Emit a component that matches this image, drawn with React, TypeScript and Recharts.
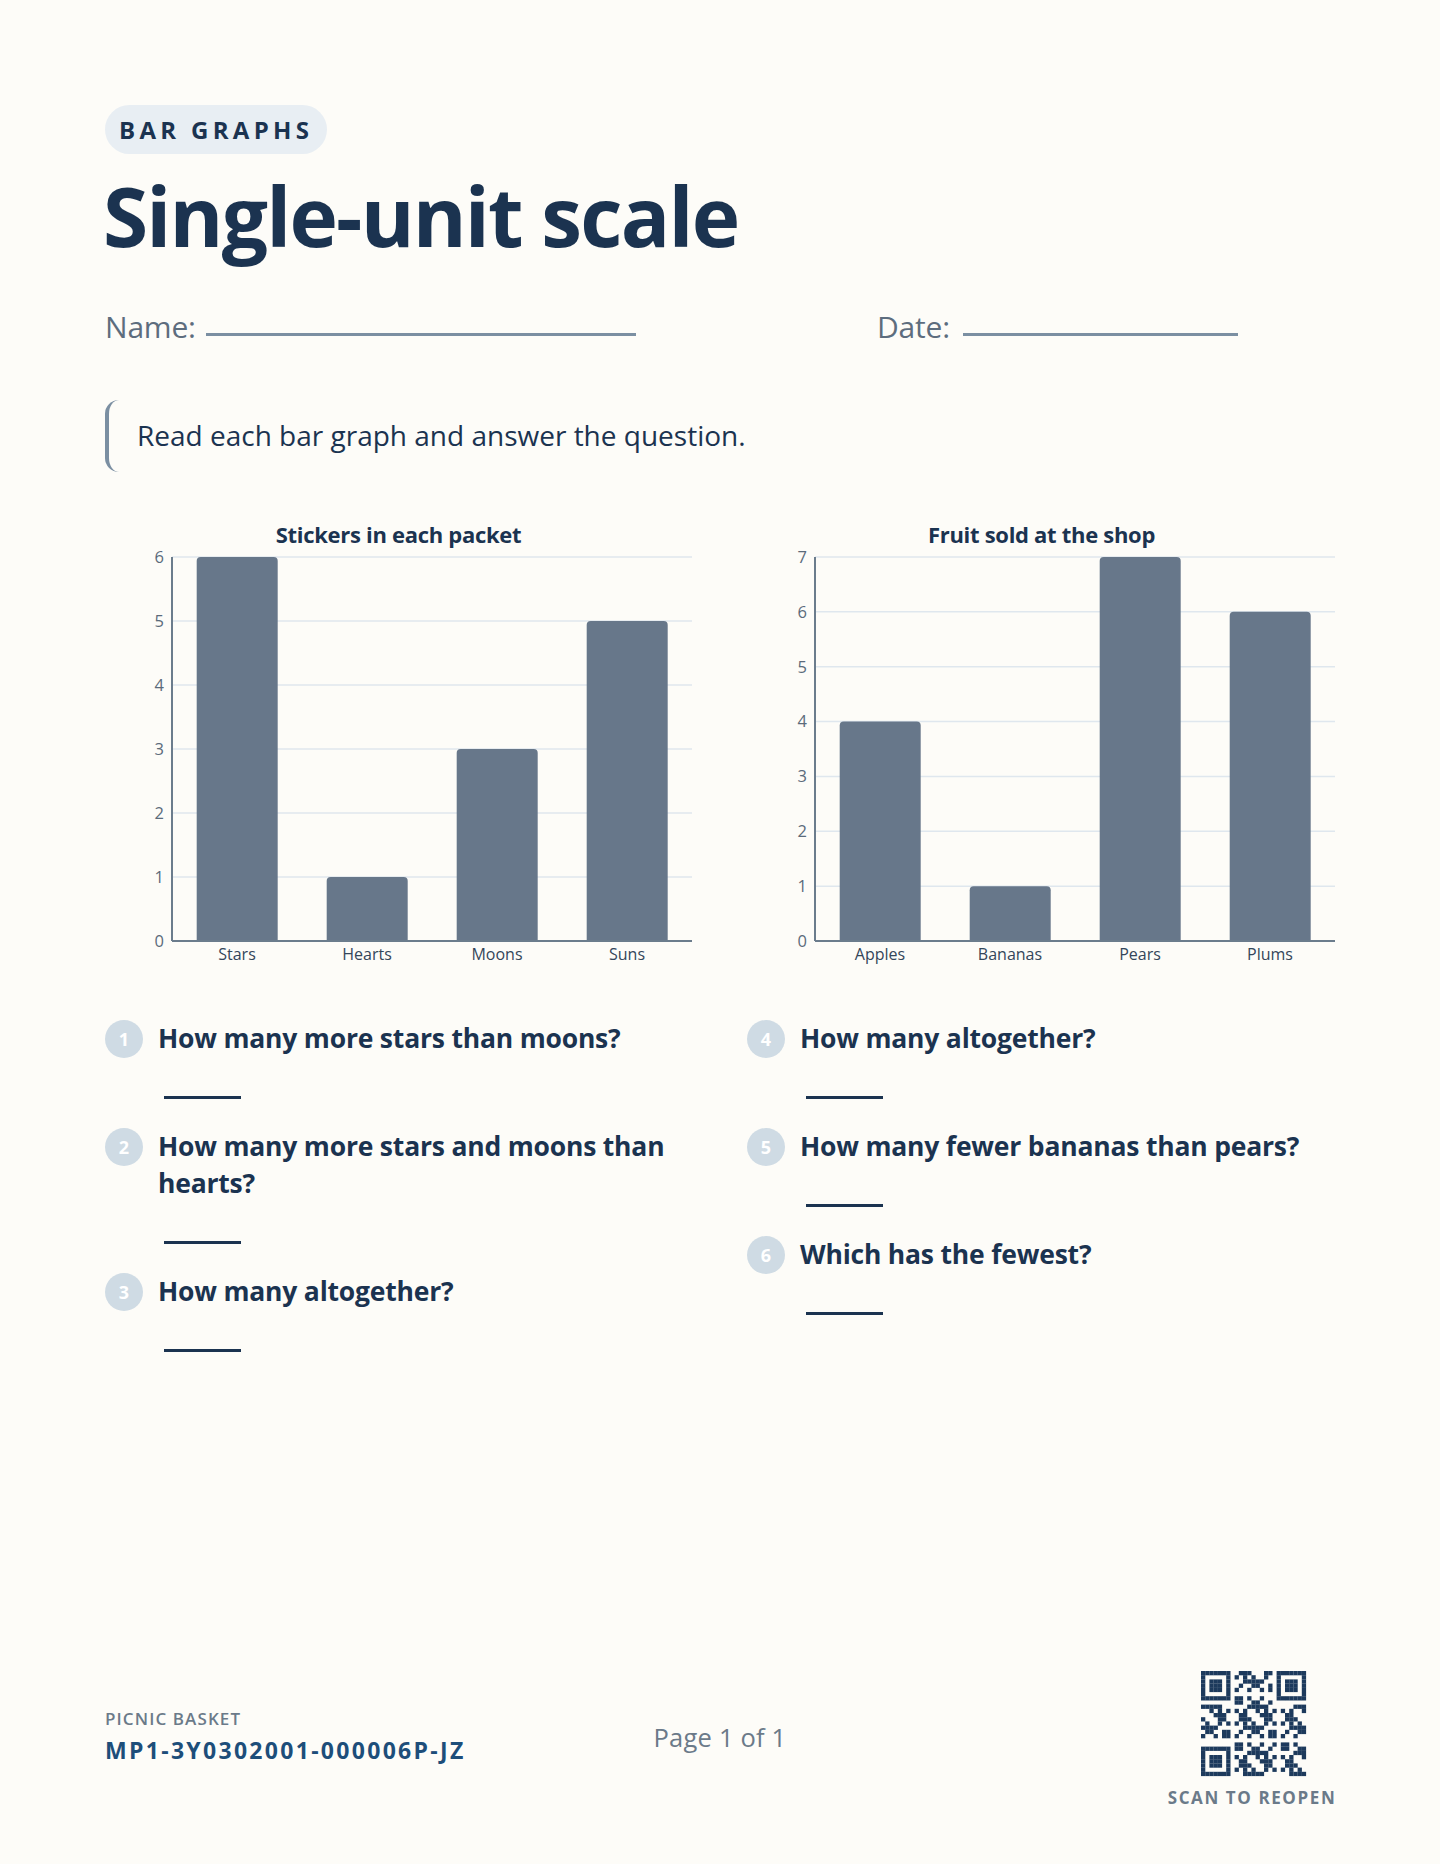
import React from 'react';
import { BarChart, Bar, XAxis, YAxis, CartesianGrid } from 'recharts';

const stickerCategories = ['Stars', 'Hearts', 'Moons', 'Suns'];
const stickerCounts = [6, 1, 3, 5];
const stickerTicks = [0, 1, 2, 3, 4, 5, 6];

const fruitCategories = ['Apples', 'Bananas', 'Pears', 'Plums'];
const fruitCounts = [4, 1, 7, 6];
const fruitTicks = [0, 1, 2, 3, 4, 5, 6, 7];

const leftQuestions = [
  { n: 1, lines: ['How many more stars than moons?'] },
  { n: 2, lines: ['How many more stars and moons than', 'hearts?'] },
  { n: 3, lines: ['How many altogether?'] },
];
const rightQuestions = [
  { n: 4, lines: ['How many altogether?'] },
  { n: 5, lines: ['How many fewer bananas than pears?'] },
  { n: 6, lines: ['Which has the fewest?'] },
];

const navy = '#1b3350';
const slate = '#5d6d7e';
const font = '"Open Sans", "Noto Sans", sans-serif';

const MiniChart = ({ title, categories, counts, ticks, left }: any) => {
  const data = categories.map((c: string, i: number) => ({ name: c, value: counts[i] }));
  return (
    <div style={{ position: 'absolute', left, top: 511, width: 587 }}>
      <div style={{ textAlign: 'center', fontSize: 22, fontWeight: 700, color: navy, lineHeight: '46px', height: 34, letterSpacing: -0.3 }}>
        {title}
      </div>
      <BarChart width={587} height={426} data={data} margin={{ top: 12, right: 0, left: 0, bottom: 0 }} barCategoryGap="19%">
        <CartesianGrid vertical={false} stroke="#dfe7ee" strokeWidth={1.5} />
        <XAxis
          dataKey="name"
          tickLine={false}
          axisLine={{ stroke: '#6b7c8c', strokeWidth: 2 }}
          tick={{ fill: '#34465a', fontSize: 16 }}
          height={30}
        />
        <YAxis
          width={67}
          domain={[0, ticks[ticks.length - 1]]}
          ticks={ticks}
          interval={0}
          tickLine={false}
          axisLine={{ stroke: '#6b7c8c', strokeWidth: 2 }}
          tick={{ fill: '#5b6b7b', fontSize: 16.5 }}
        />
        <Bar dataKey="value" fill="#67778a" radius={[4, 4, 0, 0]} isAnimationActive={false} />
      </BarChart>
    </div>
  );
};

const Questions = ({ items, left }: any) => {
  let y = 1020;
  const out: any[] = [];
  items.forEach((q: any) => {
    const top = y;
    out.push(
      <div key={q.n} style={{ position: 'absolute', left, top, width: 560 }}>
        <div
          style={{
            position: 'absolute', left: 0, top: 0, width: 38, height: 38, borderRadius: 19,
            background: '#cfdbe4', color: '#fff', fontWeight: 700, fontSize: 18,
            textAlign: 'center', lineHeight: '38px',
          }}
        >
          {q.n}
        </div>
        <div style={{ position: 'absolute', left: 53, top: 0, fontSize: 26.5, fontWeight: 700, color: navy, lineHeight: '37px', whiteSpace: 'nowrap', letterSpacing: -0.2 }}>
          {q.lines.map((l: string, i: number) => <div key={i}>{l}</div>)}
        </div>
        <div
          style={{
            position: 'absolute', left: 59, top: 37 * q.lines.length + 39, width: 77, height: 3, background: navy,
          }}
        />
      </div>
    );
    y += 37 * q.lines.length + 71;
  });
  return <>{out}</>;
};

const qrCells = () => {
  const n = 25;
  const cells: any[] = [];
  const finder = (x: number, y: number) => {
    const inBox = (ox: number, oy: number) => x >= ox && x < ox + 7 && y >= oy && y < oy + 7;
    for (const [ox, oy] of [[0, 0], [18, 0], [0, 18]]) {
      if (inBox(ox, oy)) {
        const dx = x - ox, dy = y - oy;
        const ring = Math.min(dx, dy, 6 - dx, 6 - dy);
        return ring === 0 || ring >= 2 ? 1 : 0;
      }
    }
    return -1;
  };
  for (let y = 0; y < n; y++) {
    for (let x = 0; x < n; x++) {
      const f = finder(x, y);
      let on = f === 1;
      if (f === -1) {
        if ((x < 8 && y < 8) || (x > 16 && y < 8) || (x < 8 && y > 16)) on = false;
        else on = ((x * 31 + y * 17 + x * y * 7) % 11) < 5;
      }
      if (on) cells.push(<rect key={x + '-' + y} x={x * 4.2} y={y * 4.2} width={4.3} height={4.3} fill="#1d3a5c" />);
    }
  }
  return cells;
};

const App = () => {
  return (
    <div
      style={{
        position: 'absolute', left: 0, top: 0, width: 1440, height: 1864,
        background: '#fdfcf8', fontFamily: font, color: navy, overflow: 'hidden',
      }}
    >
      <div
        style={{
          position: 'absolute', left: 105, top: 105, height: 49, padding: '0 14px', borderRadius: 25,
          background: '#e8eef3', fontSize: 24, fontWeight: 700, letterSpacing: 4.3, lineHeight: '49px', color: navy,
        }}
      >
        BAR GRAPHS
      </div>
      <div
        style={{
          position: 'absolute', left: 103, top: 170, fontSize: 82, fontWeight: 700, letterSpacing: -1.8,
          lineHeight: '90px', color: navy, whiteSpace: 'nowrap',
        }}
      >
        Single-unit scale
      </div>

      <div style={{ position: 'absolute', left: 105, top: 308, fontSize: 30, color: slate, lineHeight: '38px', letterSpacing: -0.2 }}>Name:</div>
      <div style={{ position: 'absolute', left: 206, top: 333, width: 430, height: 3, background: '#7b8fa2' }} />
      <div style={{ position: 'absolute', left: 877, top: 308, fontSize: 30, color: slate, lineHeight: '38px', letterSpacing: -0.2 }}>Date:</div>
      <div style={{ position: 'absolute', left: 963, top: 333, width: 275, height: 3, background: '#7b8fa2' }} />

      <div
        style={{
          position: 'absolute', left: 105, top: 400, width: 14, height: 72,
          borderLeft: '4px solid #7b8fa2', borderRadius: '14px 0 0 14px', boxSizing: 'border-box',
        }}
      />
      <div style={{ position: 'absolute', left: 137, top: 416, fontSize: 28, color: navy, lineHeight: '38px' }}>
        Read each bar graph and answer the question.
      </div>

      <MiniChart title="Stickers in each packet" categories={stickerCategories} counts={stickerCounts} ticks={stickerTicks} left={105} />
      <MiniChart title="Fruit sold at the shop" categories={fruitCategories} counts={fruitCounts} ticks={fruitTicks} left={748} />

      <Questions items={leftQuestions} left={105} />
      <Questions items={rightQuestions} left={747} />

      <div style={{ position: 'absolute', left: 105, top: 1708, fontSize: 17, fontWeight: 600, color: '#6b7a89', lineHeight: '22px', letterSpacing: 1.1 }}>
        PICNIC BASKET
      </div>
      <div style={{ position: 'absolute', left: 105, top: 1735, fontSize: 23, fontWeight: 700, color: '#1d4e7a', lineHeight: '30px', letterSpacing: 2.3 }}>
        MP1-3Y0302001-000006P-JZ
      </div>
      <div style={{ position: 'absolute', left: 620, width: 200, textAlign: 'center', top: 1721, fontSize: 25.5, color: '#6b7a89', lineHeight: '32px', letterSpacing: 0.2 }}>
        Page 1 of 1
      </div>
      <svg style={{ position: 'absolute', left: 1201, top: 1671 }} width={106} height={106}>
        {qrCells()}
      </svg>
      <div style={{ position: 'absolute', left: 1132, width: 240, textAlign: 'center', top: 1787, fontSize: 17, fontWeight: 700, color: '#6b7a89', lineHeight: '22px', letterSpacing: 1.6 }}>
        SCAN TO REOPEN
      </div>
    </div>
  );
};

export default App;
